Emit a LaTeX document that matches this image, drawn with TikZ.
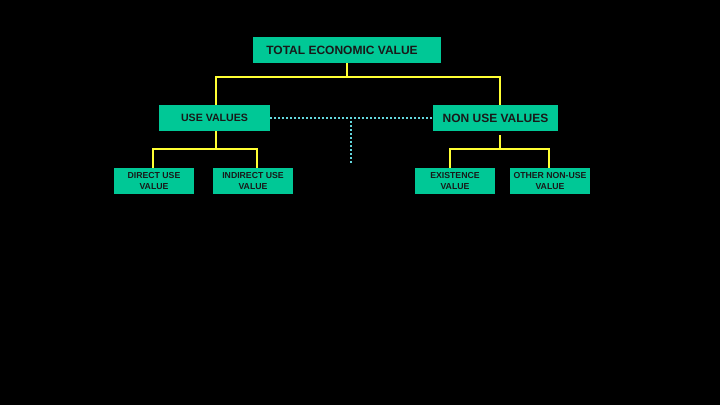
\documentclass[tikz,border=0pt]{standalone}
\usepackage{fontspec}
\setmainfont{Liberation Sans}
\definecolor{boxgreen}{RGB}{0,200,150}
\definecolor{lineyellow}{RGB}{255,255,51}
\definecolor{dotcyan}{RGB}{100,215,222}
\begin{document}
\begin{tikzpicture}[x=1pt,y=-1pt,
  gbox/.style={fill=boxgreen, inner sep=0pt, align=center, font=\bfseries, text=black!90},
  smallbox/.style={gbox, minimum width=80pt, minimum height=26pt, font=\bfseries\fontsize{8.7}{10.5}\selectfont},
  yline/.style={draw=lineyellow, line width=1.5pt},
  cdot/.style={draw=dotcyan, line width=2pt, dash pattern=on 2pt off 2pt}]
\fill[black] (0,0) rectangle (720,405);
\useasboundingbox (0,0) rectangle (720,405);
\node[gbox, minimum width=188pt, minimum height=26pt, font=\bfseries\fontsize{12}{14}\selectfont] (tev) at (347,50) {TOTAL ECONOMIC VALUE\hspace*{10pt}};
\node[gbox, minimum width=111pt, minimum height=26pt, font=\bfseries\fontsize{10.6}{12}\selectfont] (use) at (214.5,118) {USE VALUES};
\node[gbox, minimum width=125pt, minimum height=26pt, font=\bfseries\fontsize{12}{14}\selectfont] (non) at (495.5,118) {NON USE VALUES};
\node[smallbox] (dir) at (154,181) {DIRECT USE\\VALUE};
\node[smallbox] (ind) at (253,181) {INDIRECT USE\\VALUE};
\node[smallbox] (exi) at (455,181) {EXISTENCE\\VALUE};
\node[smallbox] (oth) at (550,181) {OTHER NON-USE\\VALUE};
\coordinate (tj) at (347,77);
\coordinate (uj) at (216,149);
\coordinate (nj) at (500,149);
\coordinate (ns) at (500,135);
\coordinate (dv) at (351,164);
\coordinate (dh) at (351,121);
% top level
\draw[yline] (tev.south -| tj) -- (tj);
\draw[yline] (use.north -| uj) |- (tj) -| (non.north -| nj);
% use values
\draw[yline] (use.south -| uj) -- (uj);
\draw[yline] (dir.north -| 153,0) |- (uj) -| (ind.north -| 257,0);
% non use
\draw[yline] (ns) -- (nj);
\draw[yline] (exi.north -| 450,0) |- (nj) -| (oth.north -| 549,0);
% dotted
\draw[cdot] (use.east) -- (non.west);
\draw[cdot] (dh) -- (dv);
\end{tikzpicture}
\end{document}
